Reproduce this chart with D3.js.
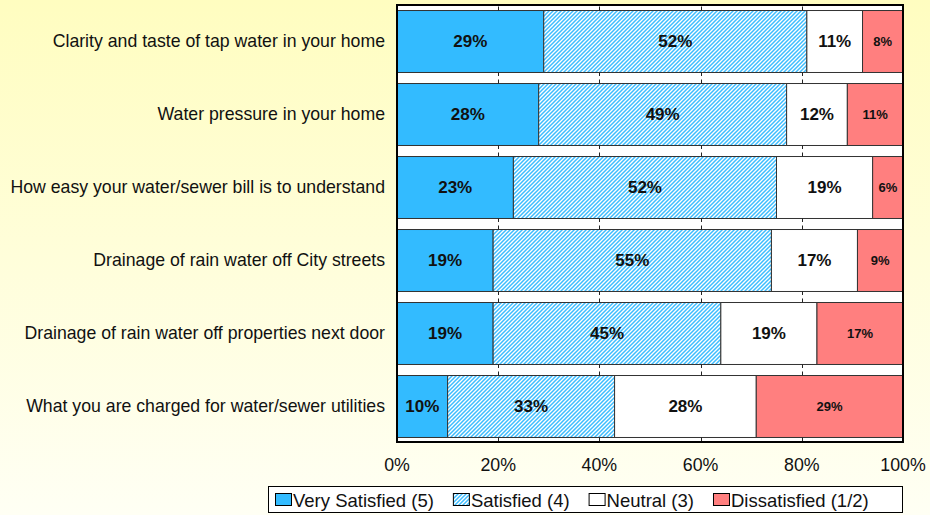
<!DOCTYPE html>
<html>
<head>
<meta charset="utf-8">
<script src="https://cdn.jsdelivr.net/npm/d3@7"></script>
<style>
  html, body { margin: 0; padding: 0; }
  svg { display: block; font-family: Arial, "Liberation Sans", sans-serif; }
</style>
</head>
<body>
<svg id="chart" width="930" height="515"></svg>
<script>
// Survey items, top to bottom
const categories = [
  "Clarity and taste of tap water in your home",
  "Water pressure in your home",
  "How easy your water/sewer bill is to understand",
  "Drainage of rain water off City streets",
  "Drainage of rain water off properties next door",
  "What you are charged for water/sewer utilities"
];
const seriesNames = ["Very Satisfied (5)", "Satisfied (4)", "Neutral (3)", "Dissatisfied (1/2)"];
// Percent of respondents per item, one array per response level
const verySatisfied = [29, 28, 23, 19, 19, 10];
const satisfied     = [52, 49, 52, 55, 45, 33];
const neutral       = [11, 12, 19, 17, 19, 28];
const dissatisfied  = [8, 11, 6, 9, 17, 29];
const tickValues = [0, 20, 40, 60, 80, 100];
const tickLabels = ["0%", "20%", "40%", "60%", "80%", "100%"];

const seriesValues = [verySatisfied, satisfied, neutral, dissatisfied];

const svg = d3.select("#chart");
const W = 930, H = 515;

// Background wash
const defs = svg.append("defs");
const bg = defs.append("linearGradient").attr("id", "bgGrad")
  .attr("x1", 0).attr("y1", 0).attr("x2", 0).attr("y2", 1);
bg.append("stop").attr("offset", "0%").attr("stop-color", "#FFFDC0");
bg.append("stop").attr("offset", "100%").attr("stop-color", "#FFFFF4");
svg.append("rect").attr("width", W).attr("height", H).attr("fill", "url(#bgGrad)");

// Diagonal hatch for "Satisfied"
const hatch = defs.append("pattern").attr("id", "hatch")
  .attr("patternUnits", "userSpaceOnUse").attr("width", 4).attr("height", 4);
hatch.append("rect").attr("width", 4).attr("height", 4).attr("fill", "#ffffff");
hatch.append("path")
  .attr("d", "M-1,1 l2,-2 M0,4 l4,-4 M3,5 l2,-2")
  .attr("stroke", "#3DBDFF").attr("stroke-width", 1.5);

const fills = ["#33BBFF", "url(#hatch)", "#FFFFFF", "#FF7F7F"];

// Plot frame
const plot = { left: 397, right: 903, top: 5, bottom: 442 };
const x = d3.scaleLinear().domain([0, 100]).range([plot.left, plot.right]);
const y = d3.scaleBand().domain(categories).range([plot.top + 1, plot.bottom - 1])
  .paddingInner(0.151).paddingOuter(0.055);

svg.append("rect")
  .attr("x", plot.left).attr("y", plot.top)
  .attr("width", plot.right - plot.left).attr("height", plot.bottom - plot.top)
  .attr("fill", "#ffffff");

// Stacked rows
const stacked = categories.map((c, i) => {
  let acc = 0;
  return seriesValues.map((vals, s) => {
    const seg = { cat: c, s, v: vals[i], x0: acc, x1: acc + vals[i] };
    acc += vals[i];
    return seg;
  });
});

const rows = svg.append("g").selectAll("g.row").data(stacked).join("g").attr("class", "row");

rows.selectAll("rect").data(d => d).join("rect")
  .attr("x", d => x(d.x0))
  .attr("y", d => y(d.cat) + 0.5)
  .attr("width", d => x(d.x1) - x(d.x0))
  .attr("height", y.bandwidth())
  .attr("fill", d => fills[d.s])
  .attr("stroke", "#333")
  .attr("stroke-width", 1);

rows.selectAll("text").data(d => d).join("text")
  .attr("x", d => (x(d.x0) + x(d.x1)) / 2)
  .attr("y", d => y(d.cat) + y.bandwidth() / 2 + 0.5)
  .attr("text-anchor", "middle")
  .attr("dominant-baseline", "central")
  .attr("font-weight", "bold")
  .attr("font-size", d => d.s === 3 ? 13 : 17)
  .attr("fill", "#111")
  .text(d => d.v + "%");

// Tick marks in the gaps above and below each row
const tickG = svg.append("g");
const bandEdges = [];
categories.forEach(c => {
  bandEdges.push({ y0: y(c) - 3.5, y1: y(c) + 0.5 });
  bandEdges.push({ y0: y(c) + y.bandwidth() + 0.5, y1: y(c) + y.bandwidth() + 4 });
});
bandEdges.forEach(e => {
  tickG.selectAll(null).data(tickValues).join("line")
    .attr("x1", d => Math.round(x(d)) + 0.5).attr("x2", d => Math.round(x(d)) + 0.5)
    .attr("y1", e.y0).attr("y2", e.y1)
    .attr("stroke", "#222").attr("stroke-width", 1);
});

// Frame border
svg.append("rect")
  .attr("x", plot.left).attr("y", plot.top)
  .attr("width", plot.right - plot.left).attr("height", plot.bottom - plot.top)
  .attr("fill", "none").attr("stroke", "#000").attr("stroke-width", 2);

// X axis labels
svg.append("g").selectAll("text").data(tickValues).join("text")
  .attr("x", d => x(d))
  .attr("y", 471)
  .attr("text-anchor", "middle")
  .attr("font-size", 17.8)
  .attr("fill", "#111")
  .text((d, i) => tickLabels[i]);

// Category labels
svg.append("g").selectAll("text").data(categories).join("text")
  .attr("x", 385)
  .attr("y", d => y(d) + y.bandwidth() / 2)
  .attr("text-anchor", "end")
  .attr("dominant-baseline", "central")
  .attr("font-size", 17.7)
  .attr("fill", "#111")
  .text(d => d);

// Legend
const lg = svg.append("g");
lg.append("rect").attr("x", 268.5).attr("y", 486.5).attr("width", 634).attr("height", 26)
  .attr("fill", "#ffffff").attr("stroke", "#000").attr("stroke-width", 1);
let lx = 275;
seriesNames.forEach((name, s) => {
  lg.append("rect").attr("x", lx + 0.5).attr("y", 493.5).attr("width", 16).attr("height", 12)
    .attr("fill", fills[s]).attr("stroke", "#000").attr("stroke-width", 1);
  const t = lg.append("text").attr("x", lx + 18).attr("y", 500).attr("dominant-baseline", "central")
    .attr("font-size", 18.5).attr("fill", "#111").text(name);
  lx += 18 + t.node().getComputedTextLength() + 19;
});
</script>
</body>
</html>
